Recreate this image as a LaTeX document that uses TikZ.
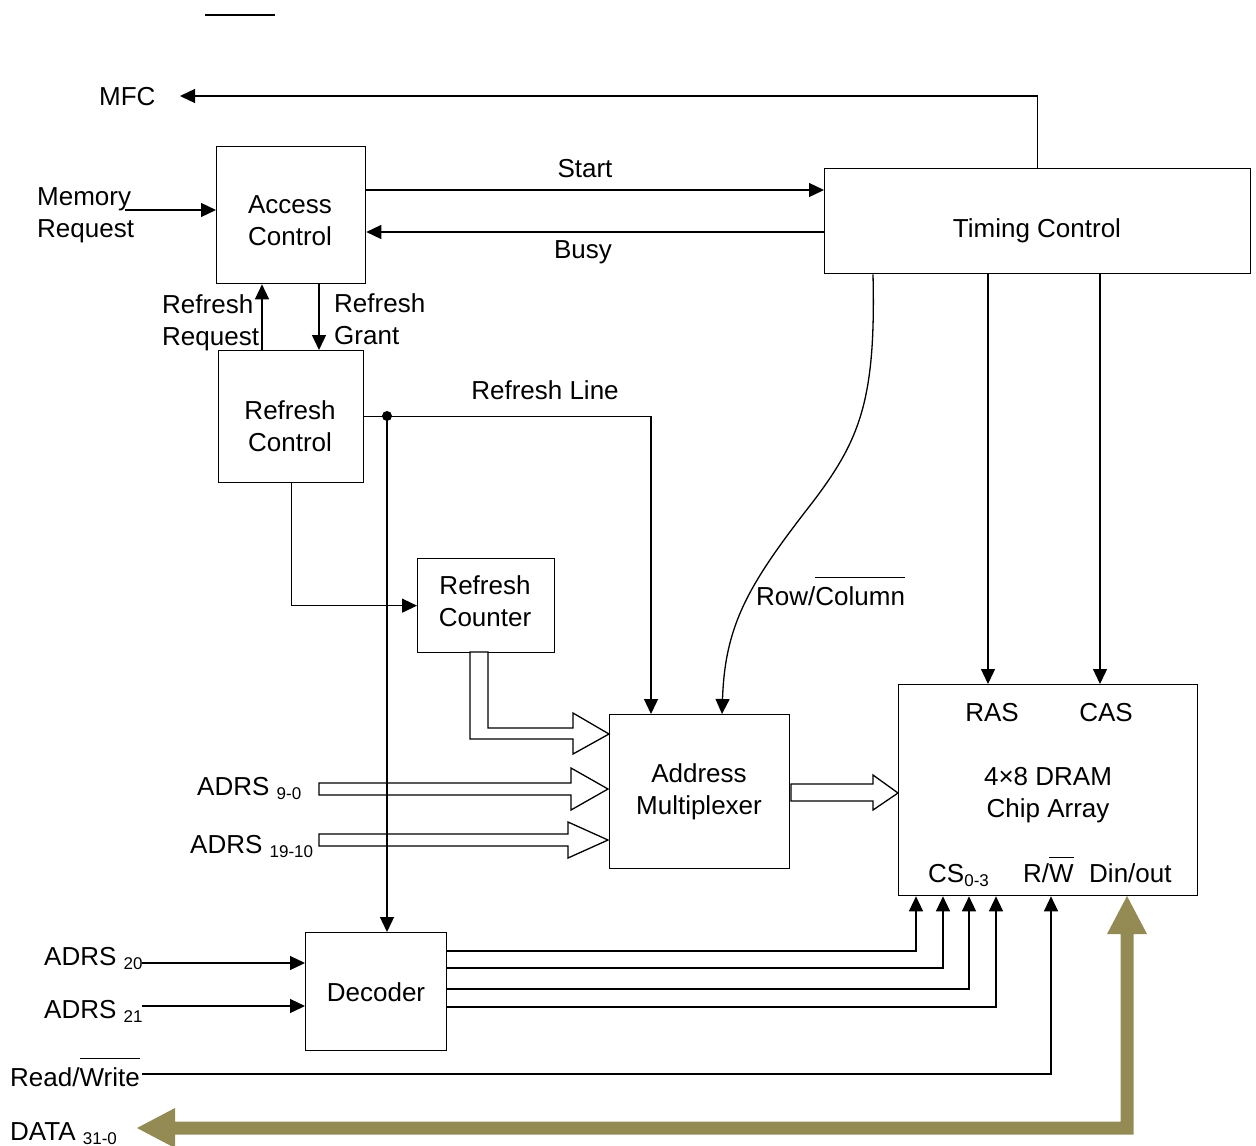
\documentclass[tikz,border=0pt]{standalone}
\usepackage{fontspec}
\setmainfont{Liberation Sans}
\usetikzlibrary{arrows.meta}
\definecolor{olivebus}{HTML}{948A54}
\newcommand\sbx[1]{\raisebox{-4pt}{\fontsize{17}{17}\selectfont #1}}
\newcommand\ovl[2][8pt]{\vbox{\hrule height 1.2pt\kern #1\hbox{#2}}}
\tikzset{
  box/.style={draw, line width=1.3pt, inner sep=0pt, anchor=north west},
  txt/.style={inner sep=0pt, font=\fontsize{26}{32}\selectfont, align=center},
  conn/.style={line width=1.3pt, -{Triangle[length=15pt,width=14pt]}},
  wire/.style={line width=1.3pt},
  hollow/.style={draw, fill=white, line width=1.3pt, line join=miter},
}
\begin{document}
\begin{tikzpicture}[x=1pt,y=-1pt]
\useasboundingbox (0,0) rectangle (1256,1146);

% stray overline at top
\draw[wire] (205,15) -- (275,15);

% boxes
\node[box, minimum width=149pt, minimum height=137pt] (acc) at (216,146) {};
\node[box, minimum width=145pt, minimum height=132pt] (rc) at (218,350) {};
\node[box, minimum width=426pt, minimum height=105pt] (tc) at (824,168) {};
\node[box, minimum width=137pt, minimum height=94pt] (cnt) at (417,558) {};
\node[box, minimum width=180pt, minimum height=154pt] (mux) at (609,714) {};
\node[box, minimum width=299pt, minimum height=211pt] (dram) at (898,684) {};
\node[box, minimum width=141pt, minimum height=118pt] (dec) at (305,932) {};

% box texts
\node[txt] (accT) at (290,221) {Access\\Control};
\node[txt] (rcT) at (290,426) {Refresh\\Control};
\node[txt, anchor=base] (tcT) at (1037,237) {Timing Control};
\node[txt] (cntT) at (485,601) {Refresh\\Counter};
\node[txt] (muxT) at (699,792) {Address\\Multiplexer};
\node[txt] (dramT) at (1048,795) {4×8 DRAM\\Chip Array};
\node[txt, anchor=base] (decT) at (376,1001) {Decoder};
\node[txt, anchor=base] (ras) at (992,721) {RAS};
\node[txt, anchor=base] (cas) at (1106,721) {CAS};
\node[txt, anchor=base west] (cs) at (928,882) {CS\sbx{0-3}};
\node[txt, anchor=base west] (rwT) at (1023,882) {R/\ovl[6pt]{W}};
\node[txt, anchor=base west] (din) at (1089,882) {Din/out};

% labels
\node[txt, anchor=base west] (mfc) at (99,105) {MFC};
\node[txt, align=left, anchor=west] (memreq) at (37,215) {Memory\\Request};
\node[txt, anchor=base] (start) at (585,177) {Start};
\node[txt, anchor=base] (busy) at (583,258) {Busy};
\node[txt, align=left, anchor=west] (rreq) at (162,323) {Refresh\\Request};
\node[txt, align=left, anchor=west] (rgr) at (334,319) {Refresh\\Grant};
\node[txt, anchor=base] (rline) at (545,399) {Refresh Line};
\node[txt, anchor=base west] (rowcol) at (756,605) {Row/\ovl{Column}};
\node[txt, anchor=base west] (a90) at (197,795) {ADRS \sbx{9-0}};
\node[txt, anchor=base west] (a1910) at (190,853) {ADRS \sbx{19-10}};
\node[txt, anchor=base west] (a20) at (44,965) {ADRS \sbx{20}};
\node[txt, anchor=base west] (a21) at (44,1018) {ADRS \sbx{21}};
\node[txt, anchor=base west] (rw) at (10,1086) {Read/\ovl{Write}};
\node[txt, anchor=base west] (data) at (10,1140) {DATA \sbx{31-0}};

% coordinates
\coordinate (mfcin) at (180,96);
\coordinate (memin) at (125,210);
\coordinate (dot) at (387,416);
\coordinate (a20in) at (142,963);
\coordinate (a21in) at (142,1006);
\coordinate (rwin) at (142,1074);

% connectors
\draw[conn] (tc.north) -- (tc.north |- mfcin) -- (mfcin);
\draw[conn] (memin) -- (acc.west |- memin);
\draw[conn] (acc.east |- 0,190) -- (tc.west |- 0,190);
\draw[conn] (tc.west |- 0,232) -- (acc.east |- 0,232);
\draw[conn] (262,0 |- rc.north) -- (262,0 |- acc.south);
\draw[conn] (319,0 |- acc.south) -- (319,0 |- rc.north);
\draw[conn] (rc.east) -| (651,0 |- mux.north);
\draw[conn] (rc.south) |- (cnt.west);
\draw[conn] (873,0 |- tc.south) .. controls (876,400) and (860,440) .. (812,503)
  .. controls (748,585) and (725,625) .. (722,0 |- mux.north);
\draw[conn] (988,0 |- tc.south) -- (988,0 |- dram.north);
\draw[conn] (1100,0 |- tc.south) -- (1100,0 |- dram.north);
\draw[conn] (a20in) -- (dec.west |- a20in);
\draw[conn] (a21in) -- (dec.west |- a21in);
\draw[conn] (dec.east |- 0,951) -| (916,0 |- dram.south);
\draw[conn] (dec.east |- 0,968) -| (943,0 |- dram.south);
\draw[conn] (dec.east |- 0,989) -| (969,0 |- dram.south);
\draw[conn] (dec.east |- 0,1007) -| (996,0 |- dram.south);
\draw[conn] (rwin) -| (1051,0 |- dram.south);

% hollow bus arrows
\path[hollow] (470,652) -- (488,652) -- (488,728) -- (573,728) -- (573,713) -- (609,734)
  -- (573,754) -- (573,739) -- (470,739) -- cycle;
\path[hollow] (319,783) -- (571,783) -- (571,768) -- (608,789) -- (571,810) -- (571,795)
  -- (319,795) -- cycle;
\path[hollow] (319,834) -- (568,834) -- (568,822) -- (608,840) -- (568,858) -- (568,846)
  -- (319,846) -- cycle;
\path[hollow] (791,784) -- (873,784) -- (873,775) -- (898,793) -- (873,810) -- (873,801)
  -- (791,801) -- cycle;

% refresh line branch to decoder
\fill (dot) circle (5);
\draw[conn] (dot) -- (dot |- dec.north);

% data bus
\fill[olivebus] (137,1128) -- (175,1108) -- (175,1121.5) -- (1120.5,1121.5) -- (1120.5,934)
  -- (1107,934) -- (1127,896) -- (1147,934) -- (1133.5,934) -- (1133.5,1134.5)
  -- (175,1134.5) -- (175,1148) -- cycle;
\end{tikzpicture}
\end{document}
